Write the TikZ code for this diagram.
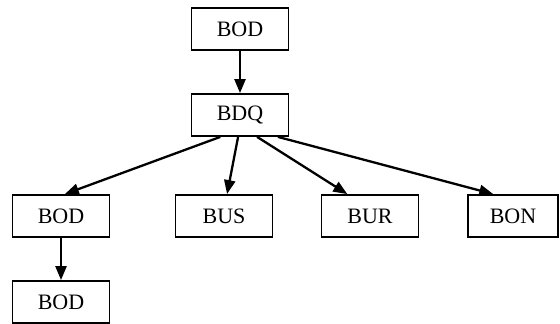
\documentclass[tikz,border=0pt]{standalone}
\usepackage{fontspec}
\setmainfont{Liberation Serif}
\usetikzlibrary{arrows.meta}

\begin{document}
\begin{tikzpicture}[x=1pt,y=-1pt,
   box/.style={draw,line width=1.8pt,rectangle,minimum width=97pt,minimum height=42pt,inner sep=0pt,font=\fontsize{22}{24}\selectfont},
   arr/.style={line width=2.3pt,-{Triangle[width=11pt,length=14pt]}}]
\useasboundingbox (0,0) rectangle (560,324);
\node[box](top) at (240,29) {BOD};
\node[box](bdq) at (240,115) {BDQ};
\foreach \n/\x/\t in {bodl/61/BOD,bus/224/BUS,bur/370/BUR} {
   \node[box](\n) at (\x,216) {\t};
}
\node[box,minimum width=90pt](bon) at (513,216) {BON};
\node[box](bodb) at (61,302) {BOD};
\draw[arr] (top) -- (bdq);
\draw[arr] (bdq.-132) -- (bodl.80);
\draw[arr] (bdq.-95) -- (bus.82);
\draw[arr] (bdq.-52) -- (bur.136);
\draw[arr] (bdq.-30) -- (bon.132);
\draw[arr] (bodl) -- (bodb);
\end{tikzpicture}
\end{document}
